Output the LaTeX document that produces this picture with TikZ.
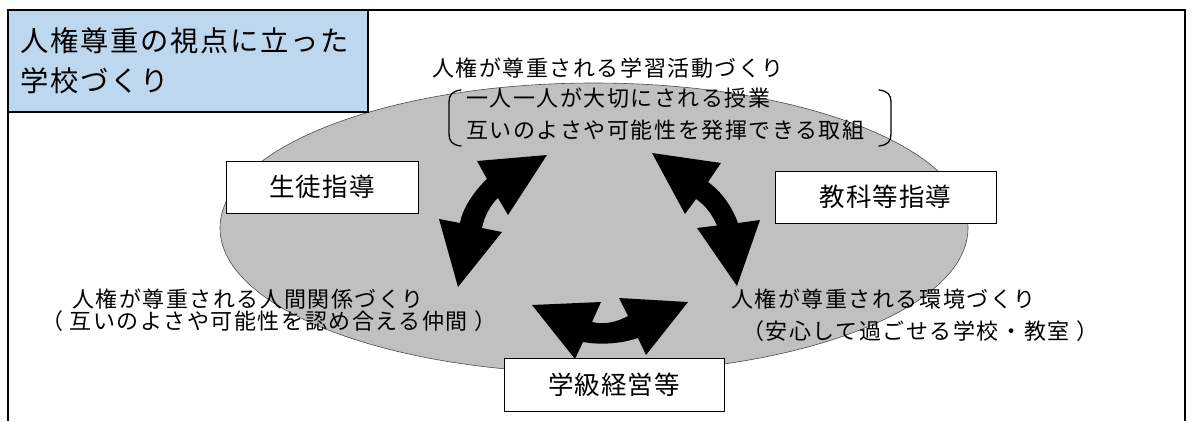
\documentclass[tikz,border=0pt]{standalone}
\usepackage{fontspec}
\usetikzlibrary{shapes.geometric}
\newfontfamily\jpbody[LetterSpace=7]{Noto Sans CJK JP}
\newfontfamily\jptitle[LetterSpace=6]{Noto Sans CJK JP}
\newfontfamily\jpbox[LetterSpace=4]{Noto Sans CJK JP}
\definecolor{ellgray}{RGB}{192,192,192}
\definecolor{titleblue}{RGB}{189,215,238}
\begin{document}
\begin{tikzpicture}[x=1pt,y=-1pt,
  lbl/.style={anchor=west,inner sep=0pt,font=\jpbody\fontsize{22}{26}\selectfont},
  ttl/.style={anchor=west,inner sep=0pt,font=\jptitle\fontsize{28.3}{32}\selectfont},
  boxlbl/.style={draw=black,line width=1pt,fill=white,inner sep=0pt,font=\jpbox\fontsize{25.5}{30}\selectfont},
  blockarrow/.style={fill=black,draw=none},
  brk/.style={line width=1.3pt,line cap=round}]
\useasboundingbox (0,0) rectangle (1194,421);
% outer frame
\draw[line width=1.4pt] (8,421) -- (8,10) -- (1185,10) -- (1185,421);
% ellipse
\node[ellipse,draw=black!70,line width=0.6pt,fill=ellgray,minimum width=748pt,minimum height=290pt,inner sep=0pt] (ell) at (594,228) {};
% title
\node[draw=black,line width=1.8pt,fill=titleblue,minimum width=360pt,minimum height=102pt,inner sep=0pt] (titlebox) at (188,61) {};
\node[ttl] (t1) at (20,41) {人権尊重の視点に立った};
\node[ttl] (t2) at (20,81) {学校づくり};
% top texts
\node[lbl] (top1) at (432,68) {人権が尊重される学習活動づくり};
\node[lbl] (top2) at (466,98) {一人一人が大切にされる授業};
\node[lbl] (top3) at (466,130) {互いのよさや可能性を発揮できる取組};
\draw[brk] (461,90) .. controls (452,91) and (449,95) .. (449,102) -- (449,134) .. controls (449,141) and (452,145) .. (461,146);
\draw[brk] (879,90) .. controls (888,91) and (891,95) .. (891,102) -- (891,134) .. controls (891,141) and (888,145) .. (879,146);
% left texts
\node[lbl] (l1) at (72,299) {人権が尊重される人間関係づくり};
\node[lbl] (l2) at (41,321) {（ 互いのよさや可能性を認め合える仲間 ）};
% right texts
\node[lbl] (r1) at (731,299) {人権が尊重される環境づくり};
\node[lbl] (r2) at (742,331) {（安心して過ごせる学校・教室 ）};
% arrows
\fill[blockarrow] (477,161) -- (547,155) -- (508,215) -- (498,198)
  .. controls (492,203) and (484,216) .. (482,228) -- (502,232) -- (458,287) -- (439,219) -- (460,223)
  .. controls (462,210) and (473,192) .. (487,179) -- cycle;
\fill[blockarrow] (652,153) -- (721,163) -- (708,182)
  .. controls (722,192) and (732,207) .. (738,223) -- (760,220) -- (737,286) -- (697,228) -- (717,225.5)
  .. controls (712,214) and (705,205) .. (696,199) -- (685,214) -- cycle;
\fill[blockarrow] (532,305) -- (601,302) -- (592,322)
  .. controls (605,325) and (617,322) .. (628,316) -- (619,298) -- (688,302) -- (646,355) -- (638,338)
  .. controls (620,344) and (600,345) .. (583,342) -- (575,359) -- cycle;
% boxes
\node[boxlbl,minimum width=192pt,minimum height=52pt] (seito) at (322,187) {生徒指導};
\node[boxlbl,minimum width=221pt,minimum height=52pt] (kyoka) at (885.5,197) {教科等指導};
\node[boxlbl,minimum width=220pt,minimum height=53pt] (gakkyu) at (614,384.5) {学級経営等};
\end{tikzpicture}
\end{document}
